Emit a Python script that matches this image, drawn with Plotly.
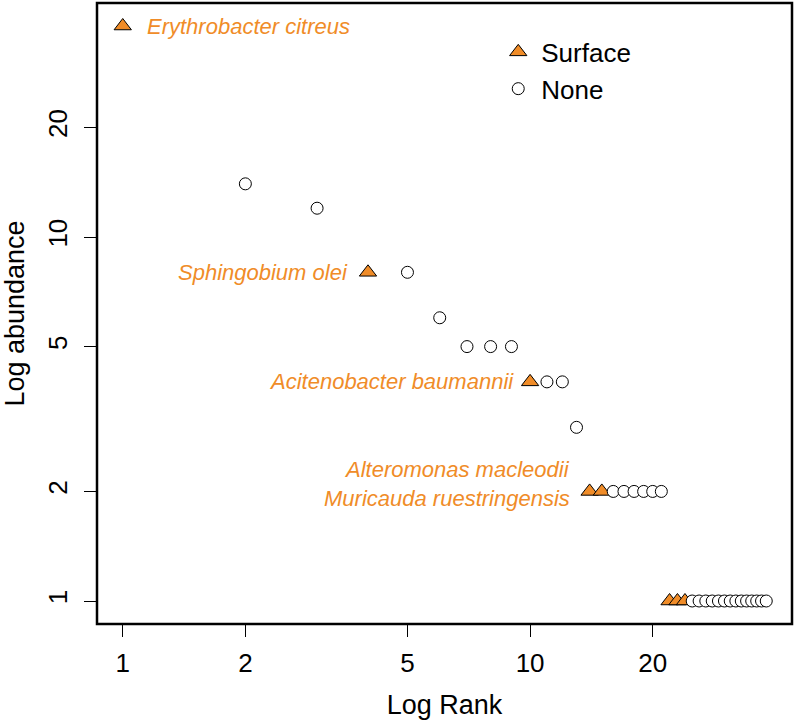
import numpy as np
import plotly.graph_objects as go

# ---- data ----
ranks = list(range(1, 39))
abundance = [38, 14, 12, 8, 8, 6, 5, 5, 5, 4, 4, 4, 3, 2, 2,
             2, 2, 2, 2, 2, 2,
             1, 1, 1,
             1, 1, 1, 1, 1, 1, 1, 1, 1, 1, 1, 1, 1, 1]
group = ["Surface", "None", "None", "Surface", "None", "None", "None", "None", "None",
         "Surface", "None", "None", "None", "Surface", "Surface",
         "None", "None", "None", "None", "None", "None",
         "Surface", "Surface", "Surface",
         "None", "None", "None", "None", "None", "None", "None", "None", "None",
         "None", "None", "None", "None", "None"]

label_ranks = [1, 4, 10, 14, 14]
label_texts = ["Erythrobacter citreus", "Sphingobium olei", "Acitenobacter baumannii",
               "Alteromonas macleodii", "Muricauda ruestringensis"]

tick_vals = [1, 2, 5, 10, 20]

ORANGE = "#F08C28"
FONT = "Liberation Sans, Arial, Helvetica, sans-serif"

fig = go.Figure()

sx = [r for r, g in zip(ranks, group) if g == "Surface"]
sy = [a for a, g in zip(abundance, group) if g == "Surface"]
nx = [r for r, g in zip(ranks, group) if g == "None"]
ny = [a for a, g in zip(abundance, group) if g == "None"]

fig.add_trace(go.Scatter(x=sx, y=sy, mode="markers", name="Surface",
                         marker=dict(symbol="triangle-up", size=15, color=ORANGE,
                                     line=dict(color="black", width=1))))
fig.add_trace(go.Scatter(x=nx, y=ny, mode="markers", name="None",
                         marker=dict(symbol="circle", size=12, color="white",
                                     line=dict(color="black", width=1))))

# annotations for labelled taxa
ab_by_rank = dict(zip(ranks, abundance))
for r, t in zip(label_ranks, label_texts):
    y = ab_by_rank[r]
    if r == 1:
        xanchor, xshift, yshift = "left", 22, 0
    else:
        xanchor, xshift, yshift = "right", -18, 0
    if r == 10:
        xshift = -14
    if t.startswith("Alteromonas"):
        yshift = 22
    if t.startswith("Muricauda"):
        yshift = -7
    fig.add_annotation(x=np.log10(r), y=np.log10(y), text="<i>" + t + "</i>",
                       showarrow=False, xanchor=xanchor, yanchor="middle",
                       xshift=xshift, yshift=yshift,
                       font=dict(family=FONT, size=22, color=ORANGE))

lo = 0 - 0.04 * np.log10(38)
hi = np.log10(38) + 0.04 * np.log10(38)

fig.update_xaxes(type="log", range=[lo, hi], tickvals=tick_vals,
                 ticktext=[str(v) for v in tick_vals],
                 ticks="outside", ticklen=12, tickwidth=1, tickcolor="black",
                 showgrid=False, zeroline=False, showline=False, automargin=False,
                 tickfont=dict(family=FONT, size=26, color="black"),
                 ticklabelstandoff=4,
                 title=dict(text="Log Rank", font=dict(family=FONT, size=27, color="black"),
                            standoff=17))
fig.update_yaxes(type="log", range=[lo, hi], tickvals=tick_vals,
                 ticktext=[str(v) for v in tick_vals],
                 ticks="outside", ticklen=12, tickwidth=1, tickcolor="black",
                 showgrid=False, zeroline=False, showline=False, automargin=False,
                 tickangle=-90,
                 tickfont=dict(family=FONT, size=26, color="black"),
                 ticklabelstandoff=7,
                 title=dict(text="Log abundance", font=dict(family=FONT, size=27, color="black"),
                            standoff=12))

fig.add_shape(type="rect", xref="paper", yref="paper", x0=0, y0=0, x1=1, y1=1,
              line=dict(color="black", width=2.5), fillcolor="rgba(0,0,0,0)", layer="above")

fig.update_layout(
    width=796, height=724,
    margin=dict(l=97, r=4, t=3, b=100, autoexpand=False),
    paper_bgcolor="white", plot_bgcolor="white",
    showlegend=True,
    legend=dict(x=0.573, y=0.959, xanchor="left", yanchor="top",
                bgcolor="rgba(0,0,0,0)", borderwidth=0,
                font=dict(family=FONT, size=26, color="black"),
                itemsizing="trace", itemwidth=36, tracegroupgap=0),
    font=dict(family=FONT),
)

fig.write_html("out.html", config={"displayModeBar": False},
               post_script="document.body.style.margin='0';document.body.style.padding='0';"
                           "document.body.style.overflow='hidden';")
